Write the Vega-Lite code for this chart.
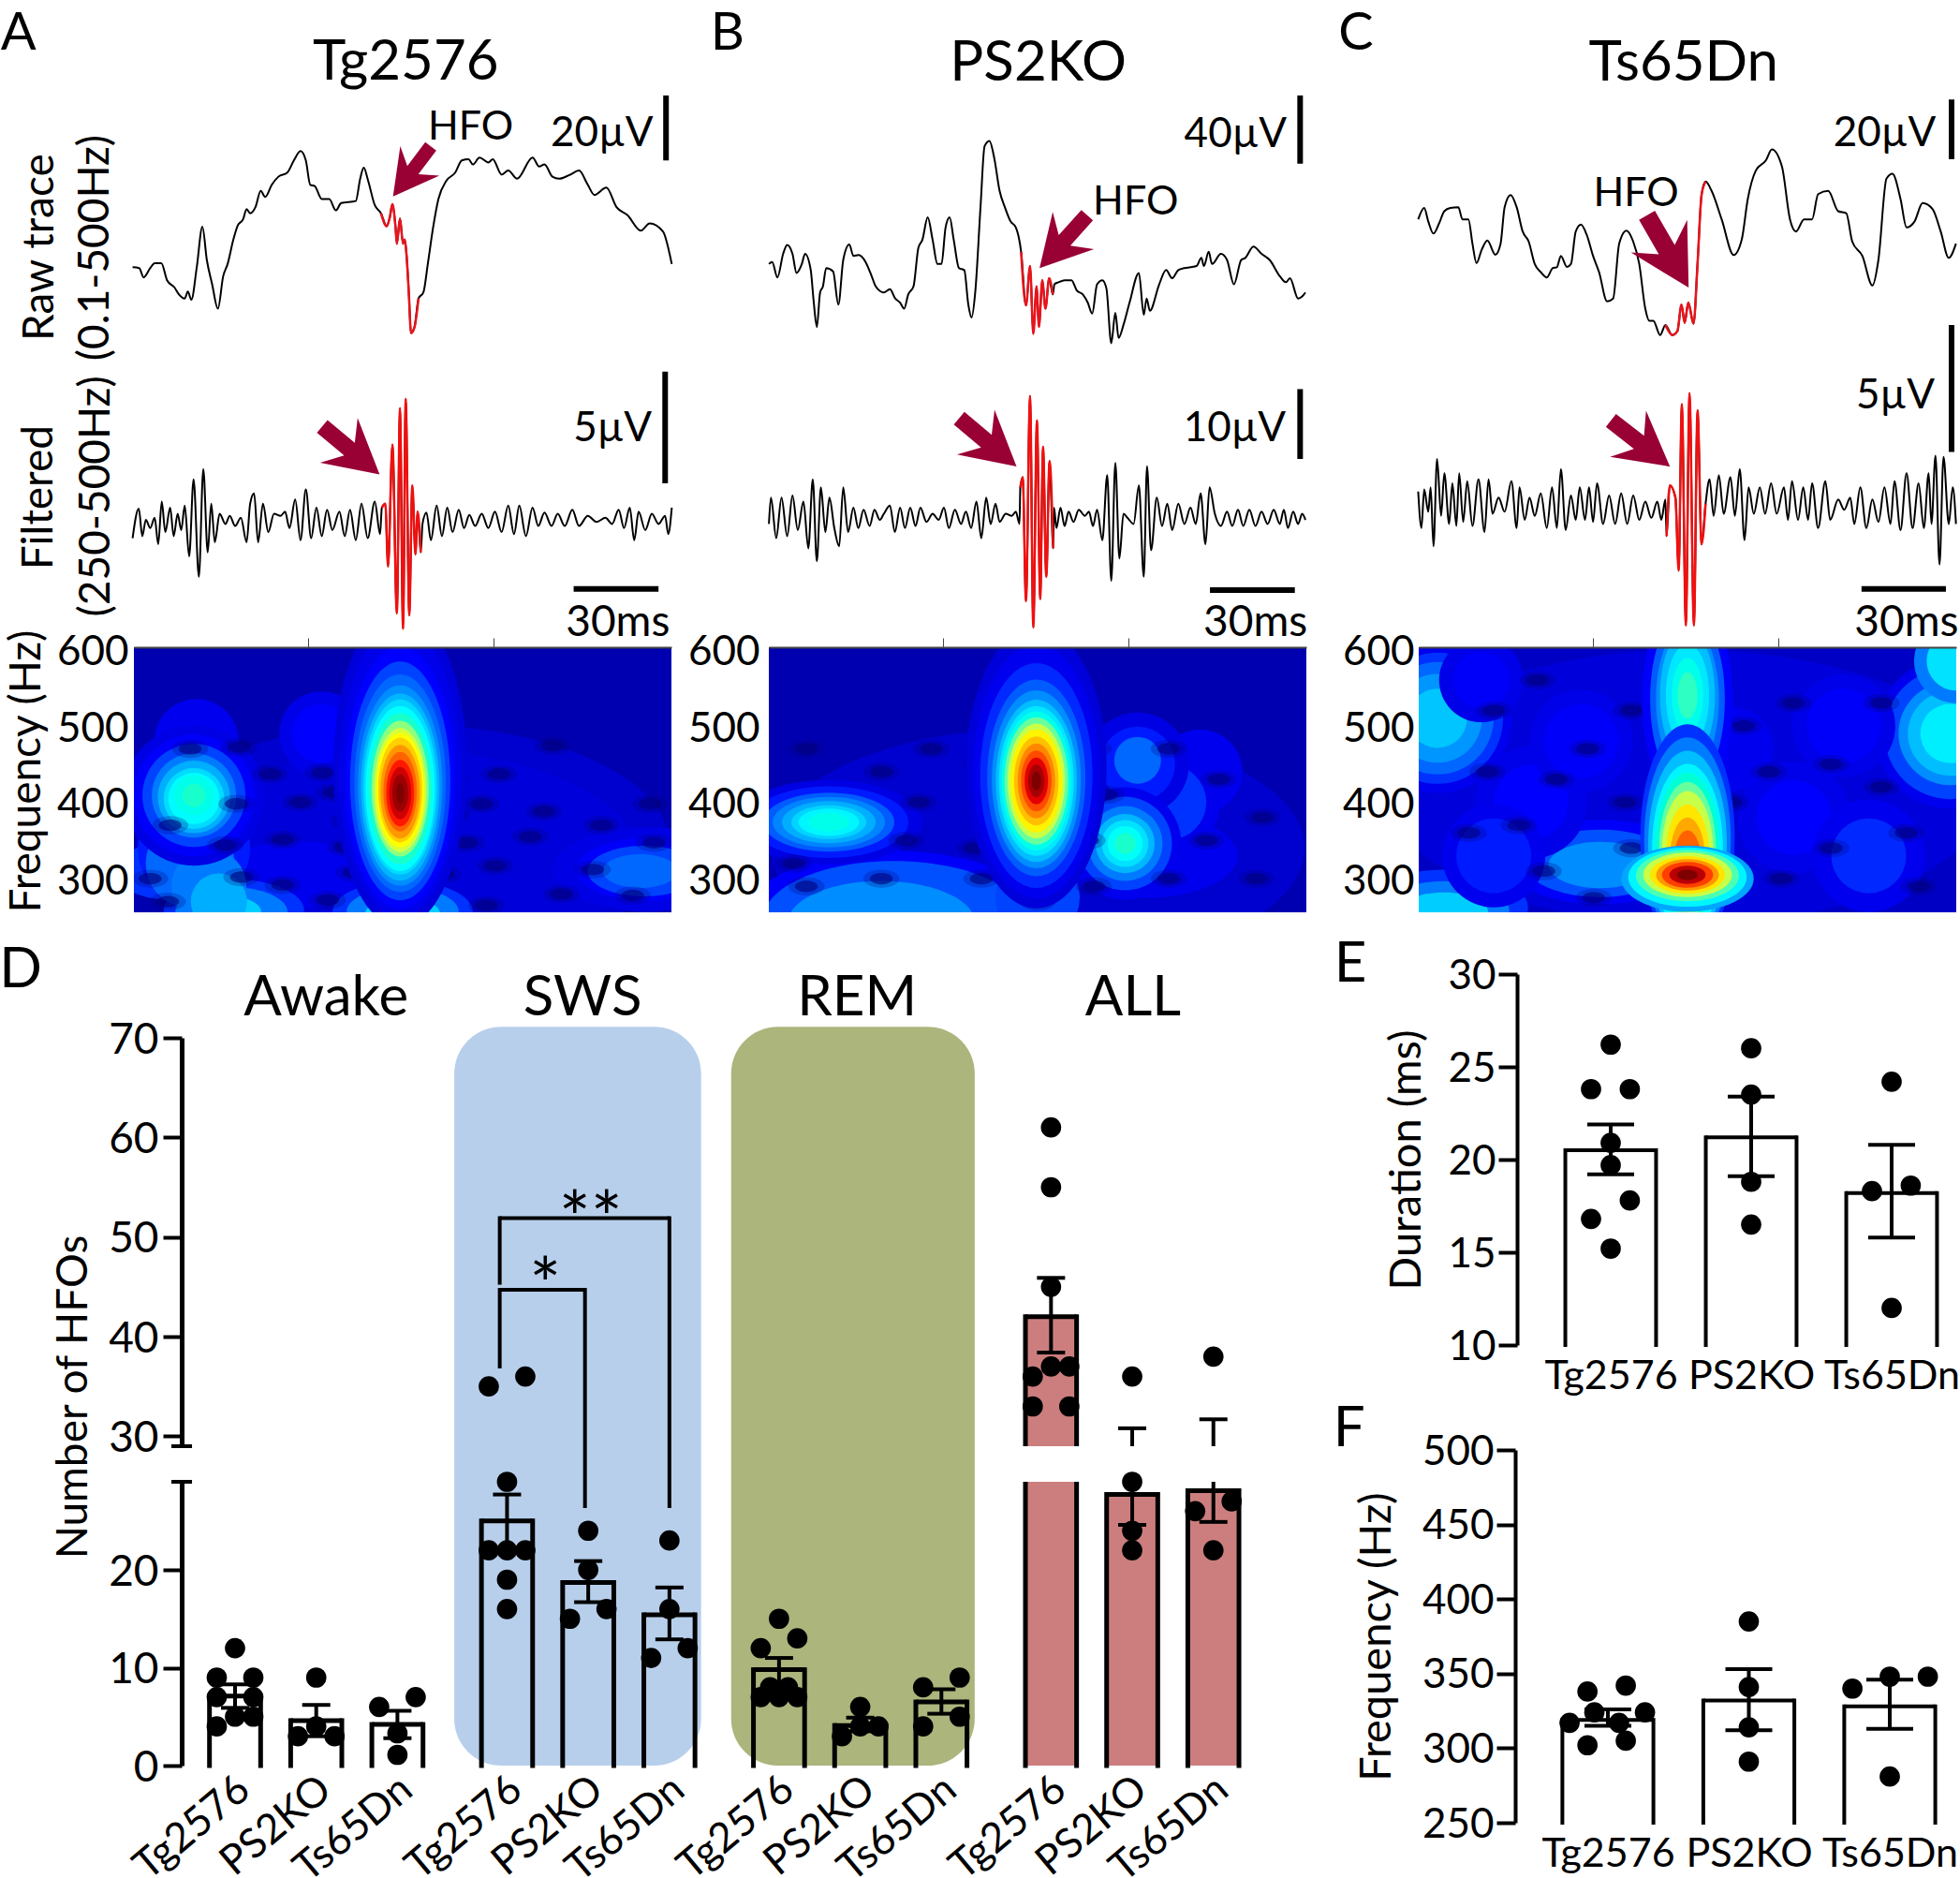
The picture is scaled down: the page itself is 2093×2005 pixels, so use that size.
{"$schema":"https://vega.github.io/schema/vega-lite/v6.json","width":2093,"height":2005,"autosize":"none","padding":0,"background":"white",
"config":{"view":{"stroke":null},"font":"Lato","axis":{"grid":false,"labelColor":"black","domainColor":"black","tickColor":"black","titleColor":"black","labelFont":"Lato","titleFont":"Lato","titleFontWeight":"normal"}},
"datasets":{
"rA":[{"t":300,"v":942},{"t":315,"v":940},{"t":325,"v":917},{"t":340,"v":940},{"t":350,"v":952},{"t":365,"v":952},{"t":378,"v":910},{"t":395,"v":892},{"t":405,"v":875},{"t":418,"v":865},{"t":425,"v":882},{"t":433,"v":862},{"t":445,"v":940},{"t":458,"v":1042},{"t":468,"v":960},{"t":480,"v":900},{"t":493,"v":840},{"t":505,"v":920},{"t":515,"v":950},{"t":528,"v":1010},{"t":538,"v":1045},{"t":550,"v":1060},{"t":558,"v":1085},{"t":566,"v":1075},{"t":578,"v":1090},{"t":590,"v":1130},{"t":600,"v":1115},{"t":615,"v":1145},{"t":630,"v":1165},{"t":650,"v":1175},{"t":665,"v":1205},{"t":680,"v":1228},{"t":692,"v":1205},{"t":702,"v":1145},{"t":712,"v":1142},{"t":728,"v":1110},{"t":745,"v":1110},{"t":760,"v":1082},{"t":772,"v":1100},{"t":805,"v":1105},{"t":815,"v":1160},{"t":823,"v":1187},{"t":833,"v":1155},{"t":848,"v":1095},{"t":862,"v":1075,"h":1},{"t":875,"v":1043,"h":1},{"t":882,"v":1065,"h":1},{"t":888,"v":1097,"h":1},{"t":895,"v":1040,"h":1},{"t":898,"v":1000,"h":1},{"t":905,"v":1062,"h":1},{"t":912,"v":1000,"h":1},{"t":916,"v":1010,"h":1},{"t":920,"v":970,"h":1},{"t":925,"v":880,"h":1},{"t":930,"v":780,"h":1},{"t":938,"v":795,"h":1},{"t":947,"v":865,"h":1},{"t":958,"v":880},{"t":968,"v":950},{"t":980,"v":1040},{"t":992,"v":1110},{"t":1010,"v":1155},{"t":1030,"v":1175},{"t":1045,"v":1205},{"t":1060,"v":1208},{"t":1070,"v":1195},{"t":1085,"v":1212},{"t":1105,"v":1200},{"t":1115,"v":1208},{"t":1135,"v":1170},{"t":1150,"v":1180},{"t":1170,"v":1160},{"t":1205,"v":1212},{"t":1220,"v":1190},{"t":1232,"v":1195},{"t":1250,"v":1165},{"t":1265,"v":1160},{"t":1290,"v":1170},{"t":1310,"v":1180},{"t":1330,"v":1145},{"t":1345,"v":1120},{"t":1372,"v":1138},{"t":1395,"v":1090},{"t":1420,"v":1070},{"t":1450,"v":1032},{"t":1470,"v":1050},{"t":1500,"v":1030},{"t":1520,"v":950}],
"fA":[{"t":300,"v":275},{"t":314,"v":348},{"t":322,"v":280},{"t":330,"v":320},{"t":340,"v":300},{"t":350,"v":325},{"t":358,"v":260},{"t":366,"v":365},{"t":374,"v":290},{"t":385,"v":350},{"t":393,"v":280},{"t":402,"v":335},{"t":410,"v":295},{"t":418,"v":355},{"t":428,"v":230},{"t":438,"v":420},{"t":450,"v":180},{"t":460,"v":445},{"t":470,"v":240},{"t":478,"v":360},{"t":486,"v":265},{"t":497,"v":335},{"t":510,"v":310},{"t":520,"v":330},{"t":532,"v":305},{"t":545,"v":325},{"t":558,"v":265},{"t":566,"v":360},{"t":575,"v":385},{"t":584,"v":265},{"t":595,"v":360},{"t":607,"v":290},{"t":620,"v":335},{"t":635,"v":330},{"t":645,"v":340},{"t":655,"v":300},{"t":668,"v":370},{"t":680,"v":270},{"t":692,"v":395},{"t":704,"v":275},{"t":716,"v":350},{"t":728,"v":280},{"t":740,"v":345},{"t":752,"v":295},{"t":768,"v":340},{"t":780,"v":280},{"t":792,"v":345},{"t":805,"v":270},{"t":818,"v":360},{"t":832,"v":275},{"t":848,"v":365},{"t":860,"v":285},{"t":864,"v":350,"h":1},{"t":872,"v":360,"h":1},{"t":878,"v":205,"h":1},{"t":888,"v":505,"h":1},{"t":898,"v":90,"h":1},{"t":905,"v":595,"h":1},{"t":912,"v":52,"h":1},{"t":918,"v":618,"h":1},{"t":926,"v":85,"h":1},{"t":933,"v":405,"h":1},{"t":940,"v":235,"h":1},{"t":945,"v":340,"h":1},{"t":952,"v":240,"h":1},{"t":956,"v":310},{"t":965,"v":338},{"t":975,"v":270},{"t":988,"v":355},{"t":1000,"v":280},{"t":1012,"v":350},{"t":1024,"v":290},{"t":1038,"v":345},{"t":1050,"v":300},{"t":1062,"v":332},{"t":1075,"v":305},{"t":1090,"v":335},{"t":1105,"v":300},{"t":1120,"v":340},{"t":1135,"v":290},{"t":1150,"v":355},{"t":1163,"v":285},{"t":1175,"v":355},{"t":1190,"v":280},{"t":1205,"v":350},{"t":1218,"v":305},{"t":1232,"v":338},{"t":1248,"v":305},{"t":1262,"v":335},{"t":1278,"v":305},{"t":1295,"v":345},{"t":1310,"v":305},{"t":1330,"v":330},{"t":1350,"v":315},{"t":1370,"v":325},{"t":1385,"v":310},{"t":1400,"v":345},{"t":1412,"v":300},{"t":1425,"v":350},{"t":1435,"v":270},{"t":1445,"v":340},{"t":1460,"v":295},{"t":1475,"v":335},{"t":1490,"v":310},{"t":1505,"v":330},{"t":1512,"v":285},{"t":1520,"v":350}],
"rB":[{"t":187,"v":950},{"t":195,"v":955},{"t":208,"v":917},{"t":222,"v":975},{"t":232,"v":997},{"t":245,"v":975},{"t":255,"v":928},{"t":268,"v":950},{"t":276,"v":975},{"t":290,"v":935},{"t":297,"v":860},{"t":305,"v":795},{"t":313,"v":880},{"t":320,"v":895},{"t":328,"v":940},{"t":345,"v":932},{"t":358,"v":850},{"t":370,"v":960},{"t":385,"v":998},{"t":395,"v":970},{"t":408,"v":972},{"t":425,"v":955},{"t":440,"v":920},{"t":450,"v":895},{"t":470,"v":880},{"t":485,"v":888},{"t":498,"v":865},{"t":510,"v":855},{"t":520,"v":840},{"t":530,"v":875},{"t":543,"v":895},{"t":555,"v":990},{"t":565,"v":1010},{"t":578,"v":1065},{"t":590,"v":1010},{"t":602,"v":950},{"t":612,"v":950},{"t":622,"v":1040},{"t":632,"v":1065},{"t":642,"v":1010},{"t":655,"v":940},{"t":668,"v":935},{"t":678,"v":850},{"t":686,"v":818},{"t":695,"v":880},{"t":708,"v":1090},{"t":718,"v":1240},{"t":730,"v":1253},{"t":742,"v":1210},{"t":755,"v":1130},{"t":768,"v":1090},{"t":782,"v":1055},{"t":795,"v":1040},{"t":808,"v":980,"h":1},{"t":820,"v":848,"h":1},{"t":830,"v":945,"h":1},{"t":838,"v":778,"h":1},{"t":846,"v":895,"h":1},{"t":852,"v":795,"h":1},{"t":860,"v":910,"h":1},{"t":868,"v":840,"h":1},{"t":877,"v":915,"h":1},{"t":886,"v":875,"h":1},{"t":890,"v":900},{"t":900,"v":905},{"t":915,"v":910},{"t":932,"v":910},{"t":945,"v":885},{"t":960,"v":875},{"t":972,"v":855},{"t":983,"v":828},{"t":995,"v":900},{"t":1008,"v":910},{"t":1018,"v":890},{"t":1030,"v":755},{"t":1040,"v":830},{"t":1048,"v":768},{"t":1060,"v":800},{"t":1075,"v":855},{"t":1098,"v":928},{"t":1110,"v":825},{"t":1117,"v":865},{"t":1125,"v":835},{"t":1148,"v":900},{"t":1165,"v":935},{"t":1180,"v":915},{"t":1195,"v":935},{"t":1210,"v":940},{"t":1225,"v":942},{"t":1240,"v":945},{"t":1252,"v":965},{"t":1258,"v":945},{"t":1270,"v":980},{"t":1278,"v":950},{"t":1300,"v":975},{"t":1315,"v":960},{"t":1332,"v":900},{"t":1350,"v":960},{"t":1360,"v":965},{"t":1380,"v":993},{"t":1400,"v":975},{"t":1420,"v":960},{"t":1445,"v":920},{"t":1460,"v":905},{"t":1470,"v":915},{"t":1490,"v":865},{"t":1500,"v":870},{"t":1508,"v":880}],
"fB":[{"t":187,"v":310},{"t":192,"v":375},{"t":205,"v":275},{"t":218,"v":375},{"t":232,"v":280},{"t":245,"v":380},{"t":258,"v":295},{"t":272,"v":365},{"t":284,"v":250},{"t":295,"v":420},{"t":305,"v":218},{"t":315,"v":400},{"t":326,"v":290},{"t":336,"v":375},{"t":348,"v":300},{"t":360,"v":255},{"t":370,"v":400},{"t":382,"v":290},{"t":395,"v":350},{"t":407,"v":300},{"t":420,"v":345},{"t":435,"v":305},{"t":447,"v":345},{"t":460,"v":320},{"t":470,"v":335},{"t":485,"v":355},{"t":497,"v":290},{"t":510,"v":350},{"t":522,"v":300},{"t":535,"v":350},{"t":548,"v":305},{"t":560,"v":350},{"t":575,"v":315},{"t":590,"v":335},{"t":605,"v":320},{"t":618,"v":350},{"t":630,"v":300},{"t":645,"v":345},{"t":660,"v":310},{"t":672,"v":340},{"t":685,"v":300},{"t":698,"v":365},{"t":710,"v":275},{"t":722,"v":375},{"t":733,"v":310},{"t":745,"v":360},{"t":755,"v":315},{"t":770,"v":335},{"t":785,"v":330},{"t":795,"v":340},{"t":804,"v":310},{"t":806,"v":400,"h":1},{"t":812,"v":425,"h":1},{"t":820,"v":120,"h":1},{"t":830,"v":625,"h":1},{"t":838,"v":55,"h":1},{"t":847,"v":565,"h":1},{"t":855,"v":125,"h":1},{"t":862,"v":500,"h":1},{"t":870,"v":180,"h":1},{"t":878,"v":465,"h":1},{"t":887,"v":250,"h":1},{"t":889,"v":350},{"t":895,"v":300},{"t":905,"v":350},{"t":915,"v":305},{"t":925,"v":340},{"t":937,"v":315},{"t":950,"v":345},{"t":965,"v":330},{"t":975,"v":340},{"t":985,"v":305},{"t":995,"v":345},{"t":1008,"v":270},{"t":1020,"v":430},{"t":1030,"v":170},{"t":1040,"v":460},{"t":1050,"v":225},{"t":1060,"v":335},{"t":1070,"v":325},{"t":1085,"v":310},{"t":1098,"v":405},{"t":1110,"v":180},{"t":1118,"v":452},{"t":1128,"v":245},{"t":1142,"v":375},{"t":1155,"v":305},{"t":1168,"v":360},{"t":1180,"v":295},{"t":1195,"v":360},{"t":1210,"v":310},{"t":1225,"v":350},{"t":1238,"v":310},{"t":1250,"v":385},{"t":1262,"v":260},{"t":1272,"v":400},{"t":1285,"v":335},{"t":1300,"v":305},{"t":1315,"v":340},{"t":1328,"v":305},{"t":1342,"v":345},{"t":1355,"v":305},{"t":1370,"v":345},{"t":1385,"v":305},{"t":1400,"v":340},{"t":1415,"v":310},{"t":1430,"v":345},{"t":1445,"v":310},{"t":1455,"v":345},{"t":1465,"v":300},{"t":1478,"v":340},{"t":1490,"v":310},{"t":1500,"v":335},{"t":1508,"v":320}],
"rC":[{"t":220,"v":1060},{"t":235,"v":1088},{"t":245,"v":1055},{"t":258,"v":1025},{"t":272,"v":1050},{"t":285,"v":1080},{"t":300,"v":1088},{"t":320,"v":1090},{"t":330,"v":1060},{"t":345,"v":1060},{"t":355,"v":1000},{"t":365,"v":952},{"t":378,"v":985},{"t":392,"v":1008},{"t":412,"v":973},{"t":425,"v":1000},{"t":435,"v":1090},{"t":450,"v":1120},{"t":465,"v":1090},{"t":480,"v":1030},{"t":495,"v":1005},{"t":510,"v":950},{"t":525,"v":930},{"t":540,"v":917},{"t":555,"v":940},{"t":565,"v":942},{"t":575,"v":970},{"t":590,"v":943},{"t":600,"v":950},{"t":612,"v":1030},{"t":625,"v":1047},{"t":640,"v":1020},{"t":655,"v":970},{"t":670,"v":930},{"t":690,"v":858},{"t":705,"v":865},{"t":720,"v":1000},{"t":738,"v":1032},{"t":755,"v":1005},{"t":770,"v":950},{"t":785,"v":840},{"t":795,"v":810},{"t":805,"v":810},{"t":822,"v":775},{"t":835,"v":800,"h":1},{"t":852,"v":775,"h":1},{"t":865,"v":785,"h":1},{"t":875,"v":850,"h":1},{"t":883,"v":805,"h":1},{"t":892,"v":855,"h":1},{"t":905,"v":803,"h":1},{"t":915,"v":950,"h":1},{"t":925,"v":1120,"h":1},{"t":935,"v":1153,"h":1},{"t":950,"v":1130},{"t":975,"v":1060},{"t":1005,"v":972},{"t":1025,"v":1010},{"t":1040,"v":1110},{"t":1060,"v":1180},{"t":1085,"v":1205},{"t":1100,"v":1232},{"t":1125,"v":1190},{"t":1145,"v":1060},{"t":1160,"v":1030},{"t":1180,"v":1060},{"t":1200,"v":1060},{"t":1215,"v":1122},{"t":1240,"v":1130},{"t":1265,"v":1080},{"t":1285,"v":1075},{"t":1300,"v":1005},{"t":1325,"v":970},{"t":1350,"v":897},{"t":1365,"v":960},{"t":1385,"v":1160},{"t":1400,"v":1172},{"t":1420,"v":1110},{"t":1435,"v":1040},{"t":1455,"v":1055},{"t":1475,"v":1100},{"t":1500,"v":1085},{"t":1520,"v":1030},{"t":1540,"v":965},{"t":1558,"v":1000}],
"fC":[{"t":220,"v":390},{"t":228,"v":300},{"t":235,"v":395},{"t":245,"v":340},{"t":251,"v":400},{"t":258,"v":255},{"t":267,"v":470},{"t":277,"v":330},{"t":285,"v":435},{"t":297,"v":310},{"t":305,"v":410},{"t":315,"v":305},{"t":322,"v":435},{"t":332,"v":315},{"t":342,"v":415},{"t":355,"v":305},{"t":370,"v":420},{"t":385,"v":290},{"t":395,"v":420},{"t":405,"v":335},{"t":420,"v":375},{"t":435,"v":340},{"t":452,"v":415},{"t":465,"v":300},{"t":472,"v":400},{"t":485,"v":320},{"t":497,"v":375},{"t":510,"v":330},{"t":525,"v":385},{"t":540,"v":300},{"t":553,"v":400},{"t":565,"v":300},{"t":575,"v":445},{"t":587,"v":295},{"t":600,"v":380},{"t":612,"v":320},{"t":622,"v":400},{"t":635,"v":320},{"t":645,"v":400},{"t":655,"v":315},{"t":665,"v":410},{"t":680,"v":310},{"t":695,"v":380},{"t":710,"v":310},{"t":725,"v":385},{"t":740,"v":310},{"t":755,"v":380},{"t":770,"v":320},{"t":785,"v":365},{"t":800,"v":325},{"t":815,"v":365},{"t":825,"v":320},{"t":835,"v":370},{"t":838,"v":280,"h":1},{"t":846,"v":405,"h":1},{"t":860,"v":375,"h":1},{"t":868,"v":195,"h":1},{"t":876,"v":605,"h":1},{"t":886,"v":60,"h":1},{"t":895,"v":632,"h":1},{"t":906,"v":60,"h":1},{"t":915,"v":590,"h":1},{"t":925,"v":260,"h":1},{"t":935,"v":360,"h":1},{"t":945,"v":420},{"t":955,"v":330},{"t":968,"v":430},{"t":980,"v":335},{"t":997,"v":425},{"t":1008,"v":330},{"t":1020,"v":445},{"t":1032,"v":270},{"t":1042,"v":400},{"t":1055,"v":335},{"t":1070,"v":400},{"t":1083,"v":335},{"t":1098,"v":410},{"t":1112,"v":335},{"t":1130,"v":400},{"t":1140,"v":320},{"t":1150,"v":415},{"t":1165,"v":320},{"t":1178,"v":400},{"t":1190,"v":320},{"t":1200,"v":410},{"t":1215,"v":300},{"t":1233,"v":415},{"t":1245,"v":320},{"t":1265,"v":370},{"t":1280,"v":345},{"t":1295,"v":375},{"t":1305,"v":310},{"t":1320,"v":400},{"t":1335,"v":300},{"t":1350,"v":370},{"t":1365,"v":315},{"t":1380,"v":400},{"t":1395,"v":310},{"t":1405,"v":415},{"t":1420,"v":295},{"t":1435,"v":435},{"t":1450,"v":300},{"t":1465,"v":410},{"t":1478,"v":300},{"t":1490,"v":435},{"t":1497,"v":310},{"t":1507,"v":478},{"t":1517,"v":210},{"t":1527,"v":475},{"t":1540,"v":310},{"t":1550,"v":400},{"t":1558,"v":310}],
"mask":[{"t":-60,"e":0,"f":150,"g":680},{"t":430,"e":490,"f":150,"g":680},{"t":-60,"e":490,"f":150,"g":256},{"t":-60,"e":490,"f":603,"g":680}],
"hAw":[{"t":215,"f":345,"a":324900,"p":0.08},{"t":215,"f":330,"a":250000,"p":0.09},{"t":410,"f":312,"a":40000,"p":0.1},{"t":410,"f":312,"a":22500,"p":0.12},{"t":408,"f":310,"a":14400,"p":0.15},{"t":405,"f":310,"a":6400,"p":0.18},{"t":130,"f":305,"a":25600,"p":0.11},{"t":35,"f":310,"a":19600,"p":0.14},{"t":80,"f":258,"a":22500,"p":0.14},{"t":78,"f":256,"a":14400,"p":0.2},{"t":72,"f":256,"a":6400,"p":0.3},{"t":215,"f":256,"a":22500,"p":0.14},{"t":215,"f":256,"a":14400,"p":0.2},{"t":215,"f":254,"a":6400,"p":0.3}],
"hAr":[{"t":150,"f":490,"a":8100,"p":0.105},{"t":150,"f":490,"a":4000,"p":0.125},{"t":50,"f":480,"a":8100,"p":0.11},{"t":48,"f":340,"a":14400,"p":0.13},{"t":45,"f":320,"a":9000,"p":0.18},{"t":60,"f":290,"a":6400,"p":0.2},{"t":68,"f":270,"a":3600,"p":0.26},{"t":48,"f":409,"a":22500,"p":0.1},{"t":48,"f":409,"a":16900,"p":0.12},{"t":48,"f":409,"a":12100,"p":0.15},{"t":48,"f":409,"a":8100,"p":0.2},{"t":48,"f":407,"a":6000,"p":0.26},{"t":48,"f":405,"a":4200,"p":0.32},{"t":48,"f":405,"a":3000,"p":0.37},{"t":48,"f":409,"a":1800,"p":0.41},{"t":48,"f":409,"a":625,"p":0.45}],
"hAs":[{"t":45,"f":470},{"t":84,"f":472},{"t":109,"f":437},{"t":151,"f":439},{"t":160,"f":413},{"t":133,"f":400},{"t":82,"f":398},{"t":29,"f":370},{"t":73,"f":344},{"t":119,"f":351},{"t":172,"f":376},{"t":169,"f":341},{"t":176,"f":308},{"t":86,"f":302},{"t":119,"f":292},{"t":13,"f":300},{"t":27,"f":270},{"t":155,"f":272},{"t":213,"f":278},{"t":247,"f":306},{"t":266,"f":347},{"t":254,"f":384},{"t":254,"f":431},{"t":252,"f":474},{"t":292,"f":437},{"t":278,"f":398},{"t":328,"f":388},{"t":317,"f":355},{"t":374,"f":370},{"t":416,"f":347},{"t":413,"f":398},{"t":289,"f":317},{"t":367,"f":312},{"t":342,"f":280},{"t":399,"f":278},{"t":282,"f":265},{"t":335,"f":474}],
"hAt":[{"t":213,"f":445,"a":115600,"p":0.09},{"t":213,"f":440,"a":96100,"p":0.105},{"t":213,"f":432,"a":78400,"p":0.125},{"t":213,"f":428,"a":65000,"p":0.15},{"t":213,"f":425,"a":54000,"p":0.18},{"t":213,"f":422,"a":46000,"p":0.22},{"t":213,"f":420,"a":40000,"p":0.27},{"t":213,"f":420,"a":35000,"p":0.32},{"t":213,"f":418,"a":31000,"p":0.375},{"t":213,"f":418,"a":26000,"p":0.45},{"t":213,"f":418,"a":21025,"p":0.53},{"t":213,"f":416,"a":17500,"p":0.59},{"t":213,"f":416,"a":15000,"p":0.625},{"t":213,"f":416,"a":12500,"p":0.69},{"t":213,"f":414,"a":10000,"p":0.76},{"t":213,"f":414,"a":7225,"p":0.82},{"t":213,"f":412,"a":5041,"p":0.87},{"t":213,"f":412,"a":3136,"p":0.92},{"t":213,"f":412,"a":1600,"p":0.97},{"t":213,"f":412,"a":484,"p":1}],
"hBw":[{"t":215,"f":340,"a":324900,"p":0.08},{"t":300,"f":330,"a":40000,"p":0.11},{"t":100,"f":248,"a":102400,"p":0.12},{"t":100,"f":246,"a":78400,"p":0.16},{"t":90,"f":242,"a":40000,"p":0.22},{"t":48,"f":374,"a":40000,"p":0.1},{"t":48,"f":374,"a":28900,"p":0.13},{"t":48,"f":374,"a":19600,"p":0.17},{"t":48,"f":374,"a":14400,"p":0.21},{"t":48,"f":374,"a":10000,"p":0.26},{"t":48,"f":374,"a":6400,"p":0.31},{"t":48,"f":374,"a":4200,"p":0.36},{"t":48,"f":374,"a":2000,"p":0.41}],
"hBr":[{"t":345,"f":440,"a":8100,"p":0.11},{"t":260,"f":400,"a":10000,"p":0.11},{"t":320,"f":400,"a":12100,"p":0.11},{"t":320,"f":400,"a":6400,"p":0.14},{"t":295,"f":450,"a":12100,"p":0.1},{"t":295,"f":450,"a":6400,"p":0.13},{"t":295,"f":455,"a":2500,"p":0.18},{"t":215,"f":275,"a":8100,"p":0.15},{"t":285,"f":346,"a":14400,"p":0.11},{"t":285,"f":346,"a":10000,"p":0.15},{"t":285,"f":346,"a":6400,"p":0.2},{"t":285,"f":346,"a":4000,"p":0.27},{"t":285,"f":346,"a":2500,"p":0.33},{"t":285,"f":346,"a":1400,"p":0.39},{"t":285,"f":346,"a":500,"p":0.45}],
"hBs":[{"t":30,"f":470},{"t":90,"f":440},{"t":130,"f":470},{"t":170,"f":450},{"t":175,"f":400},{"t":120,"f":400},{"t":20,"f":320},{"t":110,"f":350},{"t":165,"f":340},{"t":170,"f":300},{"t":90,"f":300},{"t":30,"f":290},{"t":260,"f":470},{"t":270,"f":410},{"t":255,"f":350},{"t":320,"f":470},{"t":360,"f":430},{"t":395,"f":380},{"t":350,"f":350},{"t":320,"f":300},{"t":260,"f":290},{"t":390,"f":300},{"t":215,"f":270}],
"hBt":[{"t":214,"f":445,"a":90000,"p":0.09},{"t":214,"f":440,"a":72900,"p":0.11},{"t":214,"f":435,"a":57600,"p":0.135},{"t":214,"f":432,"a":44100,"p":0.17},{"t":214,"f":430,"a":36100,"p":0.22},{"t":214,"f":428,"a":30000,"p":0.28},{"t":214,"f":428,"a":25600,"p":0.34},{"t":214,"f":428,"a":22000,"p":0.41},{"t":214,"f":428,"a":18500,"p":0.5},{"t":214,"f":428,"a":15000,"p":0.58},{"t":214,"f":428,"a":12100,"p":0.64},{"t":214,"f":428,"a":9025,"p":0.71},{"t":214,"f":428,"a":6400,"p":0.78},{"t":214,"f":428,"a":4225,"p":0.84},{"t":214,"f":428,"a":2500,"p":0.9},{"t":214,"f":428,"a":1225,"p":0.96},{"t":214,"f":428,"a":400,"p":1}],
"hCw":[{"t":215,"f":420,"a":422500,"p":0.09},{"t":145,"f":322,"a":40000,"p":0.12},{"t":145,"f":320,"a":25600,"p":0.16},{"t":145,"f":318,"a":12100,"p":0.22},{"t":20,"f":262,"a":32400,"p":0.14},{"t":20,"f":258,"a":19600,"p":0.2},{"t":20,"f":256,"a":9000,"p":0.3}],
"hCr":[{"t":15,"f":510,"a":25600,"p":0.11},{"t":15,"f":510,"a":19600,"p":0.14},{"t":15,"f":510,"a":14400,"p":0.18},{"t":15,"f":510,"a":9000,"p":0.23},{"t":15,"f":510,"a":4000,"p":0.29},{"t":50,"f":560,"a":8100,"p":0.105},{"t":50,"f":560,"a":3600,"p":0.12},{"t":425,"f":490,"a":25600,"p":0.11},{"t":425,"f":490,"a":19600,"p":0.15},{"t":425,"f":490,"a":12100,"p":0.22},{"t":425,"f":490,"a":8100,"p":0.28},{"t":425,"f":490,"a":4000,"p":0.35},{"t":430,"f":585,"a":8100,"p":0.2},{"t":430,"f":585,"a":4000,"p":0.33},{"t":90,"f":400,"a":14400,"p":0.105},{"t":90,"f":400,"a":6400,"p":0.125},{"t":130,"f":480,"a":12100,"p":0.105},{"t":130,"f":480,"a":6400,"p":0.12},{"t":300,"f":380,"a":14400,"p":0.105},{"t":300,"f":380,"a":6400,"p":0.125},{"t":340,"f":500,"a":12100,"p":0.105},{"t":340,"f":500,"a":6400,"p":0.12},{"t":360,"f":330,"a":14400,"p":0.11},{"t":360,"f":330,"a":6400,"p":0.135},{"t":60,"f":330,"a":12100,"p":0.11},{"t":60,"f":330,"a":6400,"p":0.13},{"t":250,"f":470,"a":8100,"p":0.11}],
"hCs":[{"t":60,"f":520},{"t":95,"f":560},{"t":135,"f":470},{"t":170,"f":520},{"t":110,"f":430},{"t":55,"f":440},{"t":40,"f":360},{"t":80,"f":370},{"t":100,"f":310},{"t":165,"f":400},{"t":170,"f":340},{"t":260,"f":500},{"t":280,"f":440},{"t":300,"f":530},{"t":250,"f":400},{"t":330,"f":450},{"t":370,"f":530},{"t":370,"f":420},{"t":390,"f":360},{"t":330,"f":340},{"t":290,"f":300},{"t":400,"f":290},{"t":215,"f":450},{"t":140,"f":275}],
"hCt":[{"t":215,"f":535,"a":52900,"p":0.12},{"t":215,"f":535,"a":36100,"p":0.17},{"t":215,"f":535,"a":25600,"p":0.22},{"t":215,"f":540,"a":19600,"p":0.28},{"t":215,"f":540,"a":12100,"p":0.34},{"t":215,"f":540,"a":6400,"p":0.41},{"t":215,"f":540,"a":2500,"p":0.46},{"t":215,"f":355,"a":57600,"p":0.14},{"t":215,"f":350,"a":48400,"p":0.2},{"t":215,"f":345,"a":40000,"p":0.28},{"t":215,"f":340,"a":32400,"p":0.36},{"t":215,"f":340,"a":26000,"p":0.44},{"t":215,"f":338,"a":21000,"p":0.5},{"t":215,"f":335,"a":17000,"p":0.58},{"t":215,"f":330,"a":12100,"p":0.66},{"t":215,"f":325,"a":8100,"p":0.74},{"t":215,"f":320,"a":5000,"p":0.82}],
"hCh":[{"t":215,"f":300,"a":20000,"p":0.25},{"t":215,"f":302,"a":16000,"p":0.36},{"t":215,"f":304,"a":12100,"p":0.48},{"t":215,"f":305,"a":9000,"p":0.58},{"t":215,"f":305,"a":6400,"p":0.66},{"t":215,"f":305,"a":4500,"p":0.76},{"t":215,"f":305,"a":3000,"p":0.85},{"t":215,"f":305,"a":1500,"p":0.94},{"t":215,"f":305,"a":500,"p":1}],
"dB":[{"g":"Tg2576","x":1,"z":0,"l":0.685,"r":1.315,"m":7.1,"lo":5.9,"hi":8.3},{"g":"PS2KO","x":2,"z":0,"l":1.685,"r":2.315,"m":4.6,"lo":3,"hi":6.2},{"g":"Ts65Dn","x":3,"z":0,"l":2.685,"r":3.315,"m":4.2,"lo":2.8,"hi":5.6},{"g":"Tg2576","x":4.35,"z":0,"l":4.035,"r":4.665,"m":25,"lo":22.2,"hi":27.7},{"g":"PS2KO","x":5.35,"z":0,"l":5.035,"r":5.665,"m":18.7,"lo":16.7,"hi":20.9},{"g":"Ts65Dn","x":6.35,"z":0,"l":6.035,"r":6.665,"m":15.4,"lo":12.9,"hi":18.2},{"g":"Tg2576","x":7.7,"z":0,"l":7.385,"r":8.015,"m":9.8,"lo":8.5,"hi":11},{"g":"PS2KO","x":8.7,"z":0,"l":8.385,"r":9.015,"m":4.1,"lo":3.5,"hi":4.9},{"g":"Ts65Dn","x":9.7,"z":0,"l":9.385,"r":10.015,"m":6.5,"lo":5.3,"hi":7.8},{"g":"Tg2576","x":11.05,"z":0,"l":10.735,"r":11.365,"m":42,"lo":38.4,"hi":45.9},{"g":"PS2KO","x":12.05,"z":0,"l":11.735,"r":12.365,"m":27.7,"lo":24.6,"hi":30.8},{"g":"Ts65Dn","x":13.05,"z":0,"l":12.735,"r":13.365,"m":28.1,"lo":24.9,"hi":31.7}],
"dD":[{"x":1,"y":12},{"x":0.775,"y":9},{"x":1.225,"y":9},{"x":0.775,"y":7},{"x":1.225,"y":7},{"x":1,"y":5},{"x":0.775,"y":4},{"x":1.225,"y":5},{"x":2,"y":9},{"x":1.775,"y":3},{"x":2.225,"y":3},{"x":2,"y":4},{"x":3.225,"y":7},{"x":2.775,"y":6},{"x":3,"y":3.3},{"x":3,"y":1.1},{"x":4.125,"y":35},{"x":4.575,"y":36},{"x":4.35,"y":29},{"x":4.125,"y":22},{"x":4.35,"y":22},{"x":4.575,"y":22},{"x":4.35,"y":19},{"x":4.35,"y":16},{"x":5.35,"y":24},{"x":5.35,"y":20},{"x":5.125,"y":15},{"x":5.575,"y":16},{"x":6.35,"y":23},{"x":6.35,"y":16},{"x":6.125,"y":11},{"x":6.575,"y":12},{"x":7.7,"y":15},{"x":7.475,"y":12},{"x":7.925,"y":13},{"x":7.59,"y":8},{"x":7.81,"y":8},{"x":7.475,"y":7},{"x":7.7,"y":7},{"x":7.925,"y":7},{"x":8.7,"y":6},{"x":8.475,"y":3},{"x":8.7,"y":4},{"x":8.925,"y":4},{"x":9.925,"y":9},{"x":9.475,"y":8},{"x":9.925,"y":5},{"x":9.475,"y":4},{"x":11.05,"y":61},{"x":11.05,"y":55},{"x":11.05,"y":45},{"x":11.05,"y":37},{"x":10.825,"y":36},{"x":11.275,"y":37},{"x":10.825,"y":33},{"x":11.275,"y":33},{"x":12.05,"y":36},{"x":12.05,"y":29},{"x":12.05,"y":24},{"x":12.05,"y":22},{"x":13.05,"y":38},{"x":12.825,"y":26},{"x":13.275,"y":27},{"x":13.05,"y":22}],
"eB":[{"x":1,"l":0.677,"r":1.323,"m":20.5,"lo":19.2,"hi":21.9},{"x":2,"l":1.677,"r":2.323,"m":21.2,"lo":19.1,"hi":23.4},{"x":3,"l":2.677,"r":3.323,"m":18.2,"lo":15.8,"hi":20.8}],
"eD":[{"x":1,"y":26.2},{"x":0.86,"y":23.8},{"x":1.136,"y":23.8},{"x":1,"y":20.9},{"x":1,"y":19.7},{"x":1.136,"y":17.8},{"x":0.86,"y":16.8},{"x":1,"y":15.2},{"x":2,"y":26},{"x":2,"y":23.5},{"x":2,"y":18.8},{"x":2,"y":16.5},{"x":3,"y":24.2},{"x":2.86,"y":18.3},{"x":3.136,"y":18.6},{"x":3,"y":12}],
"fB2":[{"x":1,"l":0.677,"r":1.323,"m":319,"lo":315,"hi":326},{"x":2,"l":1.677,"r":2.323,"m":332,"lo":312,"hi":353},{"x":3,"l":2.677,"r":3.323,"m":328,"lo":313,"hi":346}],
"fD2":[{"x":0.855,"y":338},{"x":1.127,"y":342},{"x":0.904,"y":324},{"x":1.263,"y":324},{"x":0.728,"y":317},{"x":1.079,"y":317},{"x":0.855,"y":302},{"x":1.127,"y":305},{"x":2,"y":385},{"x":2,"y":341},{"x":2,"y":314},{"x":2,"y":291},{"x":2.735,"y":340},{"x":3,"y":348},{"x":3.27,"y":348},{"x":3,"y":281}]
},
"layer":[
{"encoding":{"x":{"field":"t","type":"quantitative","scale":{"domain":[0,430],"range":[143,717]},"axis":{"orient":"top","offset":-691,"values":[139.5,288],"labels":false,"title":null,"tickSize":10,"tickColor":"#444","domainColor":"#444","domainWidth":2,"zindex":1}},"y":{"field":"f","type":"quantitative","scale":{"domain":[256,603],"range":[974,691]},"axis":{"orient":"left","offset":-137,"values":[300,400,500,600],"domain":false,"ticks":false,"labelPadding":0,"labelOffset":3,"labelFontSize":44,"title":"Frequency (Hz)","titleFontSize":46,"titleX":-109,"titleY":823,"titleAngle":270,"titleAlign":"center","titleBaseline":"middle","zindex":1}},"color":{"field":"p","type":"quantitative","scale":{"domain":[0,0.125,0.375,0.625,0.875,1],"range":["#00007f","#0000ff","#00ffff","#ffff00","#ff0000","#7f0000"]},"legend":null}},
"layer":[
{"data":{"values":[{"t":0,"e":430,"f":256,"g":603,"p":0.05}]},"mark":"rect","encoding":{"x2":{"field":"e"},"y2":{"field":"g"}}},
{"data":{"name":"hAw"},"mark":{"type":"point","filled":true,"opacity":1,"strokeWidth":0,"shape":"M-1,0A1,.45 0 1,1 1,0A1,.45 0 1,1 -1,0Z"},"encoding":{"size":{"field":"a","type":"quantitative","scale":null,"legend":null}}},
{"data":{"name":"hAr"},"mark":{"type":"point","filled":true,"opacity":1,"strokeWidth":0,"shape":"circle"},"encoding":{"size":{"field":"a","type":"quantitative","scale":null,"legend":null}}},
{"data":{"name":"hAs"},"mark":{"type":"point","filled":true,"opacity":0.25,"strokeWidth":0,"size":1500,"shape":"M-1,0A1,.5 0 1,1 1,0A1,.5 0 1,1 -1,0Z"},"encoding":{"color":{"value":"#00007a"}}},
{"data":{"name":"hAs"},"mark":{"type":"point","filled":true,"opacity":0.6,"strokeWidth":0,"size":600,"shape":"M-1,0A1,.5 0 1,1 1,0A1,.5 0 1,1 -1,0Z"},"encoding":{"color":{"value":"#00007a"}}},
{"data":{"name":"hAt"},"mark":{"type":"point","filled":true,"opacity":1,"strokeWidth":0,"shape":"M-.42,0A.42,1 0 1,1 .42,0A.42,1 0 1,1 -.42,0Z"},"encoding":{"size":{"field":"a","type":"quantitative","scale":null,"legend":null}}},
{"data":{"name":"mask"},"mark":"rect","encoding":{"x2":{"field":"e"},"y2":{"field":"g"},"color":{"value":"white"}}}
]},
{"encoding":{"x":{"field":"t","type":"quantitative","scale":{"domain":[0,430],"range":[821,1395]},"axis":{"orient":"top","offset":-691,"values":[139.5,288],"labels":false,"title":null,"tickSize":10,"tickColor":"#444","domainColor":"#444","domainWidth":2,"zindex":1}},"y":{"field":"f","type":"quantitative","scale":{"domain":[256,603],"range":[974,691]},"axis":{"orient":"left","offset":-811,"values":[300,400,500,600],"domain":false,"ticks":false,"labelPadding":0,"labelOffset":3,"labelFontSize":44,"title":null,"zindex":1}},"color":{"field":"p","type":"quantitative","scale":{"domain":[0,0.125,0.375,0.625,0.875,1],"range":["#00007f","#0000ff","#00ffff","#ffff00","#ff0000","#7f0000"]},"legend":null}},
"layer":[
{"data":{"values":[{"t":0,"e":430,"f":256,"g":603,"p":0.05}]},"mark":"rect","encoding":{"x2":{"field":"e"},"y2":{"field":"g"}}},
{"data":{"name":"hBw"},"mark":{"type":"point","filled":true,"opacity":1,"strokeWidth":0,"shape":"M-1,0A1,.45 0 1,1 1,0A1,.45 0 1,1 -1,0Z"},"encoding":{"size":{"field":"a","type":"quantitative","scale":null,"legend":null}}},
{"data":{"name":"hBr"},"mark":{"type":"point","filled":true,"opacity":1,"strokeWidth":0,"shape":"circle"},"encoding":{"size":{"field":"a","type":"quantitative","scale":null,"legend":null}}},
{"data":{"name":"hBs"},"mark":{"type":"point","filled":true,"opacity":0.25,"strokeWidth":0,"size":1500,"shape":"M-1,0A1,.5 0 1,1 1,0A1,.5 0 1,1 -1,0Z"},"encoding":{"color":{"value":"#00007a"}}},
{"data":{"name":"hBs"},"mark":{"type":"point","filled":true,"opacity":0.6,"strokeWidth":0,"size":600,"shape":"M-1,0A1,.5 0 1,1 1,0A1,.5 0 1,1 -1,0Z"},"encoding":{"color":{"value":"#00007a"}}},
{"data":{"name":"hBt"},"mark":{"type":"point","filled":true,"opacity":1,"strokeWidth":0,"shape":"M-.5,0A.5,1 0 1,1 .5,0A.5,1 0 1,1 -.5,0Z"},"encoding":{"size":{"field":"a","type":"quantitative","scale":null,"legend":null}}},
{"data":{"name":"mask"},"mark":"rect","encoding":{"x2":{"field":"e"},"y2":{"field":"g"},"color":{"value":"white"}}}
]},
{"encoding":{"x":{"field":"t","type":"quantitative","scale":{"domain":[0,430],"range":[1515,2089]},"axis":{"orient":"top","offset":-691,"values":[139.5,288],"labels":false,"title":null,"tickSize":10,"tickColor":"#444","domainColor":"#444","domainWidth":2,"zindex":1}},"y":{"field":"f","type":"quantitative","scale":{"domain":[256,603],"range":[974,691]},"axis":{"orient":"left","offset":-1510,"values":[300,400,500,600],"domain":false,"ticks":false,"labelPadding":0,"labelOffset":3,"labelFontSize":44,"title":null,"zindex":1}},"color":{"field":"p","type":"quantitative","scale":{"domain":[0,0.125,0.375,0.625,0.875,1],"range":["#00007f","#0000ff","#00ffff","#ffff00","#ff0000","#7f0000"]},"legend":null}},
"layer":[
{"data":{"values":[{"t":0,"e":430,"f":256,"g":603,"p":0.07}]},"mark":"rect","encoding":{"x2":{"field":"e"},"y2":{"field":"g"}}},
{"data":{"name":"hCw"},"mark":{"type":"point","filled":true,"opacity":1,"strokeWidth":0,"shape":"M-1,0A1,.45 0 1,1 1,0A1,.45 0 1,1 -1,0Z"},"encoding":{"size":{"field":"a","type":"quantitative","scale":null,"legend":null}}},
{"data":{"name":"hCr"},"mark":{"type":"point","filled":true,"opacity":1,"strokeWidth":0,"shape":"circle"},"encoding":{"size":{"field":"a","type":"quantitative","scale":null,"legend":null}}},
{"data":{"name":"hCs"},"mark":{"type":"point","filled":true,"opacity":0.25,"strokeWidth":0,"size":1500,"shape":"M-1,0A1,.5 0 1,1 1,0A1,.5 0 1,1 -1,0Z"},"encoding":{"color":{"value":"#00007a"}}},
{"data":{"name":"hCs"},"mark":{"type":"point","filled":true,"opacity":0.6,"strokeWidth":0,"size":600,"shape":"M-1,0A1,.5 0 1,1 1,0A1,.5 0 1,1 -1,0Z"},"encoding":{"color":{"value":"#00007a"}}},
{"data":{"name":"hCt"},"mark":{"type":"point","filled":true,"opacity":1,"strokeWidth":0,"shape":"M-.42,0A.42,1 0 1,1 .42,0A.42,1 0 1,1 -.42,0Z"},"encoding":{"size":{"field":"a","type":"quantitative","scale":null,"legend":null}}},
{"data":{"name":"hCh"},"mark":{"type":"point","filled":true,"opacity":1,"strokeWidth":0,"shape":"M-1,0A1,.5 0 1,1 1,0A1,.5 0 1,1 -1,0Z"},"encoding":{"size":{"field":"a","type":"quantitative","scale":null,"legend":null}}},
{"data":{"name":"mask"},"mark":"rect","encoding":{"x2":{"field":"e"},"y2":{"field":"g"},"color":{"value":"white"}}}
]},
{"encoding":{"x":{"field":"t","type":"quantitative","scale":{"domain":[0,1568],"range":[0,740]},"axis":null},"y":{"field":"v","type":"quantitative","scale":{"domain":[0,1600],"range":[693.8,0]},"axis":null}},
"layer":[
{"data":{"name":"rA"},"mark":{"type":"line","color":"black","strokeWidth":2,"interpolate":"monotone"}},
{"data":{"name":"rA"},"transform":[{"filter":"datum.h"}],"mark":{"type":"line","color":"#e8141c","strokeWidth":2.5,"interpolate":"monotone"}},
{"data":{"name":"fA"},"mark":{"type":"line","color":"black","strokeWidth":2,"interpolate":"monotone"}},
{"data":{"name":"fA"},"transform":[{"filter":"datum.h"}],"mark":{"type":"line","color":"#f01010","strokeWidth":2.5,"interpolate":"monotone"}},
{"data":{"values":[{"t":1507,"v":1365,"w":1205},{"t":1505,"v":685,"w":410}]},"mark":{"type":"rule","color":"black","strokeWidth":6},"encoding":{"y2":{"field":"w"}}},
{"data":{"values":[{"t":1298,"u":1490,"v":150}]},"mark":{"type":"rule","color":"black","strokeWidth":6},"encoding":{"x2":{"field":"u"}}},
{"data":{"values":[{"t":932,"v":1178}]},"mark":{"type":"point","filled":true,"opacity":1,"color":"#990033","strokeWidth":0,"size":4489,"angle":217,"shape":"M0,-1L.78,.42L.22,.05L.22,1L-.22,1L-.22,.05L-.78,.42Z"}},
{"data":{"values":[{"t":794,"v":491}]},"mark":{"type":"point","filled":true,"opacity":1,"color":"#990033","strokeWidth":0,"size":6400,"angle":130,"shape":"M0,-1L.78,.42L.22,.05L.22,1L-.22,1L-.22,.05L-.78,.42Z"}},
{"data":{"values":[{"t":42,"v":1478,"s":"A"}]},"mark":{"type":"text","fontSize":56,"align":"center","baseline":"alphabetic"},"encoding":{"text":{"field":"s"}}},
{"data":{"values":[{"t":918,"v":1404,"s":"Tg2576"}]},"mark":{"type":"text","fontSize":60,"align":"center","baseline":"alphabetic"},"encoding":{"text":{"field":"s"}}},
{"data":{"values":[{"t":1065,"v":1257,"s":"HFO"}]},"mark":{"type":"text","fontSize":43,"align":"center","baseline":"alphabetic"},"encoding":{"text":{"field":"s"}}},
{"data":{"values":[{"t":1398,"v":34,"s":"30ms"}]},"mark":{"type":"text","fontSize":46,"align":"center","baseline":"alphabetic"},"encoding":{"text":{"field":"s"}}},
{"data":{"values":[{"t":1478,"v":1240,"s":"20µV"},{"t":1475,"v":514,"s":"5µV"}]},"mark":{"type":"text","fontSize":44,"align":"right","baseline":"alphabetic"},"encoding":{"text":{"field":"s"}}},
{"data":{"values":[{"t":92,"v":991,"s":"Raw trace"},{"t":216,"v":990,"s":"(0.1-500Hz)"},{"t":90,"v":375,"s":"Filtered"},{"t":218,"v":378,"s":"(250-500Hz)"}]},"mark":{"type":"text","fontSize":46,"angle":270,"align":"center","baseline":"middle"},"encoding":{"text":{"field":"s"}}}
]},
{"encoding":{"x":{"field":"t","type":"quantitative","scale":{"domain":[0,1568],"range":[740,1420]},"axis":null},"y":{"field":"v","type":"quantitative","scale":{"domain":[0,1600],"range":[693.8,0]},"axis":null}},
"layer":[
{"data":{"name":"rB"},"mark":{"type":"line","color":"black","strokeWidth":2,"interpolate":"monotone"}},
{"data":{"name":"rB"},"transform":[{"filter":"datum.h"}],"mark":{"type":"line","color":"#e8141c","strokeWidth":2.5,"interpolate":"monotone"}},
{"data":{"name":"fB"},"mark":{"type":"line","color":"black","strokeWidth":2,"interpolate":"monotone"}},
{"data":{"name":"fB"},"transform":[{"filter":"datum.h"}],"mark":{"type":"line","color":"#f01010","strokeWidth":2.5,"interpolate":"monotone"}},
{"data":{"values":[{"t":1495,"v":1365,"w":1197},{"t":1495,"v":642,"w":470}]},"mark":{"type":"rule","color":"black","strokeWidth":6},"encoding":{"y2":{"field":"w"}}},
{"data":{"values":[{"t":1273,"u":1482,"v":147}]},"mark":{"type":"rule","color":"black","strokeWidth":6},"encoding":{"x2":{"field":"u"}}},
{"data":{"values":[{"t":912,"v":1005}]},"mark":{"type":"point","filled":true,"opacity":1,"color":"#990033","strokeWidth":0,"size":5776,"angle":222,"shape":"M0,-1L.78,.42L.22,.05L.22,1L-.22,1L-.22,.05L-.78,.42Z"}},
{"data":{"values":[{"t":726,"v":511}]},"mark":{"type":"point","filled":true,"opacity":1,"color":"#990033","strokeWidth":0,"size":6400,"angle":130,"shape":"M0,-1L.78,.42L.22,.05L.22,1L-.22,1L-.22,.05L-.78,.42Z"}},
{"data":{"values":[{"t":85,"v":1478,"s":"B"}]},"mark":{"type":"text","fontSize":56,"align":"center","baseline":"alphabetic"},"encoding":{"text":{"field":"s"}}},
{"data":{"values":[{"t":850,"v":1402,"s":"PS2KO"}]},"mark":{"type":"text","fontSize":60,"align":"center","baseline":"alphabetic"},"encoding":{"text":{"field":"s"}}},
{"data":{"values":[{"t":1090,"v":1073,"s":"HFO"}]},"mark":{"type":"text","fontSize":43,"align":"center","baseline":"alphabetic"},"encoding":{"text":{"field":"s"}}},
{"data":{"values":[{"t":1385,"v":34,"s":"30ms"}]},"mark":{"type":"text","fontSize":46,"align":"center","baseline":"alphabetic"},"encoding":{"text":{"field":"s"}}},
{"data":{"values":[{"t":1462,"v":1237,"s":"40µV"},{"t":1460,"v":514,"s":"10µV"}]},"mark":{"type":"text","fontSize":44,"align":"right","baseline":"alphabetic"},"encoding":{"text":{"field":"s"}}}
]},
{"encoding":{"x":{"field":"t","type":"quantitative","scale":{"domain":[0,1568],"range":[1420,2093]},"axis":null},"y":{"field":"v","type":"quantitative","scale":{"domain":[0,1600],"range":[693.8,0]},"axis":null}},
"layer":[
{"data":{"name":"rC"},"mark":{"type":"line","color":"black","strokeWidth":2,"interpolate":"monotone"}},
{"data":{"name":"rC"},"transform":[{"filter":"datum.h"}],"mark":{"type":"line","color":"#e8141c","strokeWidth":2.5,"interpolate":"monotone"}},
{"data":{"name":"fC"},"mark":{"type":"line","color":"black","strokeWidth":2,"interpolate":"monotone"}},
{"data":{"name":"fC"},"transform":[{"filter":"datum.h"}],"mark":{"type":"line","color":"#f01010","strokeWidth":2.5,"interpolate":"monotone"}},
{"data":{"values":[{"t":1547,"v":1355,"w":1208},{"t":1547,"v":800,"w":487}]},"mark":{"type":"rule","color":"black","strokeWidth":6},"encoding":{"y2":{"field":"w"}}},
{"data":{"values":[{"t":1323,"u":1533,"v":150}]},"mark":{"type":"rule","color":"black","strokeWidth":6},"encoding":{"x2":{"field":"u"}}},
{"data":{"values":[{"t":841,"v":981}]},"mark":{"type":"point","filled":true,"opacity":1,"color":"#990033","strokeWidth":0,"size":7921,"angle":150,"shape":"M0,-1L.78,.42L.22,.05L.22,1L-.22,1L-.22,.05L-.78,.42Z"}},
{"data":{"values":[{"t":773,"v":508}]},"mark":{"type":"point","filled":true,"opacity":1,"color":"#990033","strokeWidth":0,"size":6400,"angle":128,"shape":"M0,-1L.78,.42L.22,.05L.22,1L-.22,1L-.22,.05L-.78,.42Z"}},
{"data":{"values":[{"t":65,"v":1478,"s":"C"}]},"mark":{"type":"text","fontSize":56,"align":"center","baseline":"alphabetic"},"encoding":{"text":{"field":"s"}}},
{"data":{"values":[{"t":880,"v":1401,"s":"Ts65Dn"}]},"mark":{"type":"text","fontSize":60,"align":"center","baseline":"alphabetic"},"encoding":{"text":{"field":"s"}}},
{"data":{"values":[{"t":762,"v":1092,"s":"HFO"}]},"mark":{"type":"text","fontSize":43,"align":"center","baseline":"alphabetic"},"encoding":{"text":{"field":"s"}}},
{"data":{"values":[{"t":1435,"v":34,"s":"30ms"}]},"mark":{"type":"text","fontSize":46,"align":"center","baseline":"alphabetic"},"encoding":{"text":{"field":"s"}}},
{"data":{"values":[{"t":1508,"v":1240,"s":"20µV"},{"t":1505,"v":595,"s":"5µV"}]},"mark":{"type":"text","fontSize":44,"align":"right","baseline":"alphabetic"},"encoding":{"text":{"field":"s"}}}
]},
{"encoding":{"x":{"field":"x","type":"quantitative","scale":{"domain":[0,14],"range":[164.3,1378.1]},"axis":null},"y":{"field":"y","type":"quantitative","scale":{"domain":[0,29,29.001,70],"range":[1885,1582,1544,1108],"nice":false,"zero":false},"axis":{"orient":"left","offset":-194,"values":[0,10,20,30,40,50,60,70],"tickSize":20,"tickWidth":4,"domainWidth":5,"labelFontSize":46,"labelPadding":5,"labelOffset":2,"title":"Number of HFOs","titleFontSize":46,"titleX":-116,"titleY":1491,"titleAngle":270,"titleAlign":"center","titleBaseline":"middle"}}},
"layer":[
{"data":{"values":[{"x":3.7,"e":6.74,"y":71.1,"b":0}]},"mark":{"type":"rect","color":"#b8cfeb","cornerRadius":50},"encoding":{"x2":{"field":"e"},"y2":{"field":"b"}}},
{"data":{"values":[{"x":7.11,"e":10.11,"y":71.1,"b":0}]},"mark":{"type":"rect","color":"#abb57c","cornerRadius":50},"encoding":{"x2":{"field":"e"},"y2":{"field":"b"}}},
{"data":{"name":"dB"},"transform":[{"filter":"datum.x>11"}],"mark":{"type":"rect","color":"#cc7e7e"},"encoding":{"x":{"field":"l"},"x2":{"field":"r"},"y":{"field":"m"},"y2":{"field":"z"}}},
{"data":{"name":"dB"},"mark":{"type":"rule","color":"black","strokeWidth":5,"strokeCap":"square"},"encoding":{"x":{"field":"l"},"y":{"field":"m"},"y2":{"field":"z"}}},
{"data":{"name":"dB"},"mark":{"type":"rule","color":"black","strokeWidth":5,"strokeCap":"square"},"encoding":{"x":{"field":"r"},"y":{"field":"m"},"y2":{"field":"z"}}},
{"data":{"name":"dB"},"mark":{"type":"rule","color":"black","strokeWidth":5},"encoding":{"x":{"field":"l"},"x2":{"field":"r"},"y":{"field":"m"}}},
{"data":{"name":"dB"},"mark":{"type":"rule","color":"black","strokeWidth":4},"encoding":{"y":{"field":"lo"},"y2":{"field":"hi"}}},
{"data":{"name":"dB"},"mark":{"type":"tick","orient":"horizontal","color":"black","size":30,"thickness":4,"opacity":1},"encoding":{"y":{"field":"lo"}}},
{"data":{"name":"dB"},"mark":{"type":"tick","orient":"horizontal","color":"black","size":30,"thickness":4,"opacity":1},"encoding":{"y":{"field":"hi"}}},
{"data":{"values":[{"x":0.1,"e":0.6,"y":29,"b":29.001},{"x":10.5,"e":13.6,"y":29,"b":29.001}]},"mark":{"type":"rect","color":"white"},"encoding":{"x2":{"field":"e"},"y2":{"field":"b"}}},
{"data":{"values":[{"x":0.343,"y":29},{"x":0.343,"y":29.001}]},"mark":{"type":"tick","orient":"horizontal","color":"black","size":22,"thickness":4,"opacity":1}},
{"data":{"name":"dD"},"mark":{"type":"circle","color":"black","size":470,"opacity":1}},
{"data":{"values":[{"x":4.26,"y":51.9,"b":45.4},{"x":6.35,"y":51.9,"b":26.5},{"x":4.26,"y":44.7,"b":37},{"x":5.31,"y":44.7,"b":26.5}]},"mark":{"type":"rule","color":"black","strokeWidth":4,"strokeCap":"square"},"encoding":{"y2":{"field":"b"}}},
{"data":{"values":[{"x":4.26,"e":6.35,"y":51.9},{"x":4.26,"e":5.31,"y":44.7}]},"mark":{"type":"rule","color":"black","strokeWidth":4},"encoding":{"x2":{"field":"e"}}},
{"data":{"values":[{"x":5.38,"y":49.2,"s":"**"},{"x":4.82,"y":42.5,"s":"*"}]},"mark":{"type":"text","fontSize":80,"align":"center","baseline":"alphabetic"},"encoding":{"text":{"field":"s"}}},
{"data":{"values":[{"x":-1.64,"y":75.07,"s":"D"},{"x":2.12,"y":72.3,"s":"Awake"},{"x":5.28,"y":72.3,"s":"SWS"},{"x":8.66,"y":72.3,"s":"REM"},{"x":12.06,"y":72.3,"s":"ALL"}]},"mark":{"type":"text","fontSize":60,"align":"center","baseline":"alphabetic"},"encoding":{"text":{"field":"s"}}},
{"data":{"name":"dB"},"mark":{"type":"text","fontSize":44,"angle":320,"align":"right","baseline":"middle","dx":-5,"dy":22},"encoding":{"y":{"field":"z"},"text":{"field":"g"}}}
]},
{"encoding":{"x":{"field":"x","type":"quantitative","scale":{"domain":[0,4],"range":[1570,2170]},"axis":{"orient":"bottom","offset":-569,"values":[1,2,3],"labelExpr":"['','Tg2576','PS2KO','Ts65Dn'][datum.value]","domain":false,"ticks":false,"labelFontSize":43,"labelPadding":12,"labelFlush":false,"labelOverlap":false,"title":null}},"y":{"field":"y","type":"quantitative","scale":{"domain":[10,30],"range":[1436,1040],"nice":false,"zero":false},"axis":{"orient":"left","offset":-1620,"values":[10,15,20,25,30],"tickSize":20,"tickWidth":4,"domainWidth":4,"labelFontSize":44,"labelPadding":3,"labelOffset":2,"title":"Duration (ms)","titleFontSize":47,"titleX":-118,"titleY":1238,"titleAngle":270,"titleAlign":"center","titleBaseline":"middle","zindex":1}}},
"layer":[
{"data":{"name":"eB"},"mark":{"type":"rule","color":"black","strokeWidth":4,"strokeCap":"square"},"encoding":{"x":{"field":"l"},"y":{"field":"m"},"y2":{"datum":10}}},
{"data":{"name":"eB"},"mark":{"type":"rule","color":"black","strokeWidth":4,"strokeCap":"square"},"encoding":{"x":{"field":"r"},"y":{"field":"m"},"y2":{"datum":10}}},
{"data":{"name":"eB"},"mark":{"type":"rule","color":"black","strokeWidth":4},"encoding":{"x":{"field":"l"},"x2":{"field":"r"},"y":{"field":"m"}}},
{"data":{"name":"eB"},"mark":{"type":"rule","color":"black","strokeWidth":4},"encoding":{"y":{"field":"lo"},"y2":{"field":"hi"}}},
{"data":{"name":"eB"},"mark":{"type":"tick","orient":"horizontal","color":"black","size":50,"thickness":4,"opacity":1},"encoding":{"y":{"field":"lo"}}},
{"data":{"name":"eB"},"mark":{"type":"tick","orient":"horizontal","color":"black","size":50,"thickness":4,"opacity":1},"encoding":{"y":{"field":"hi"}}},
{"data":{"name":"eD"},"mark":{"type":"circle","color":"black","size":470,"opacity":1}},
{"data":{"values":[{"x":-0.853,"y":29.6,"s":"E"}]},"mark":{"type":"text","fontSize":60,"align":"center","baseline":"alphabetic"},"encoding":{"text":{"field":"s"}}}
]},
{"encoding":{"x":{"field":"x","type":"quantitative","scale":{"domain":[0,4],"range":[1566.5,2168.5]},"axis":{"orient":"bottom","offset":-59,"values":[1,2,3],"labelExpr":"['','Tg2576','PS2KO','Ts65Dn'][datum.value]","domain":false,"ticks":false,"labelFontSize":43,"labelPadding":12,"labelFlush":false,"labelOverlap":false,"title":null}},"y":{"field":"y","type":"quantitative","scale":{"domain":[250,500],"range":[1946,1548],"nice":false,"zero":false},"axis":{"orient":"left","offset":-1618,"values":[250,300,350,400,450,500],"tickSize":20,"tickWidth":4,"domainWidth":4,"labelFontSize":44,"labelPadding":3,"labelOffset":2,"title":"Frequency (Hz)","titleFontSize":47,"titleX":-148,"titleY":1747,"titleAngle":270,"titleAlign":"center","titleBaseline":"middle"}}},
"layer":[
{"data":{"name":"fB2"},"mark":{"type":"rule","color":"black","strokeWidth":4,"strokeCap":"square"},"encoding":{"x":{"field":"l"},"y":{"field":"m"},"y2":{"datum":250}}},
{"data":{"name":"fB2"},"mark":{"type":"rule","color":"black","strokeWidth":4,"strokeCap":"square"},"encoding":{"x":{"field":"r"},"y":{"field":"m"},"y2":{"datum":250}}},
{"data":{"name":"fB2"},"mark":{"type":"rule","color":"black","strokeWidth":4},"encoding":{"x":{"field":"l"},"x2":{"field":"r"},"y":{"field":"m"}}},
{"data":{"name":"fB2"},"mark":{"type":"rule","color":"black","strokeWidth":4},"encoding":{"y":{"field":"lo"},"y2":{"field":"hi"}}},
{"data":{"name":"fB2"},"mark":{"type":"tick","orient":"horizontal","color":"black","size":50,"thickness":4,"opacity":1},"encoding":{"y":{"field":"lo"}}},
{"data":{"name":"fB2"},"mark":{"type":"tick","orient":"horizontal","color":"black","size":50,"thickness":4,"opacity":1},"encoding":{"y":{"field":"hi"}}},
{"data":{"name":"fD2"},"mark":{"type":"circle","color":"black","size":470,"opacity":1}},
{"data":{"values":[{"x":-0.835,"y":502.5,"s":"F"}]},"mark":{"type":"text","fontSize":60,"align":"center","baseline":"alphabetic"},"encoding":{"text":{"field":"s"}}}
]}
],
"resolve":{"scale":{"x":"independent","y":"independent"},"axis":{"x":"independent","y":"independent"}}}
